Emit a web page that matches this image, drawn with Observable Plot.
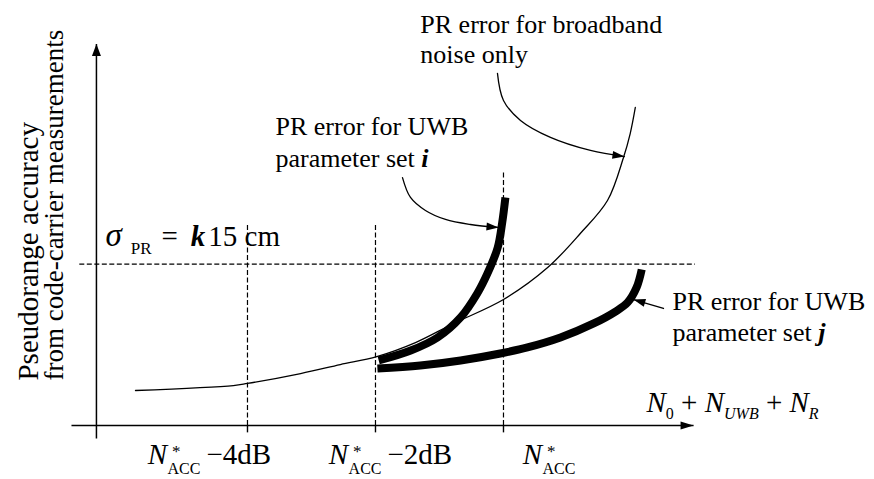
<!DOCTYPE html>
<html>
<head>
<meta charset="utf-8">
<script src="https://cdn.jsdelivr.net/npm/d3@7"></script>
<script src="https://cdn.jsdelivr.net/npm/@observablehq/plot@0.6"></script>
</head>
<body style="margin:0;background:#fff">
<div id="chart"></div>
<script>
// ---- data (x: noise level in dB relative to N*ACC; y: PR error, sigma level ≈ 1) ----
const broadbandX = [-5.75, -4.22, -4.0, -3.17, -2.55, -1.98, -1.375, -0.78, 0, 0.69, 1.20, 1.625, 1.875, 1.98, 2.06];
const broadbandY = [0.215, 0.245, 0.258, 0.319, 0.374, 0.423, 0.509, 0.626, 0.773, 0.969, 1.178, 1.380, 1.644, 1.791, 1.951];
const uwbIX = [-1.95, -1.45, -1.03, -0.67, -0.41, -0.25, -0.09, -0.02, 0.03];
const uwbIY = [0.399, 0.460, 0.540, 0.663, 0.810, 0.933, 1.092, 1.245, 1.399];
const uwbJX = [-1.97, -1.30, -0.67, -0.05, 0.375, 0.89, 1.41, 1.75, 1.94, 2.08, 2.16];
const uwbJY = [0.350, 0.368, 0.399, 0.442, 0.479, 0.540, 0.626, 0.699, 0.755, 0.847, 0.957];
const tickValues = [-4, -2, 0];
const tickLabels = ["N*ACC −4dB", "N*ACC −2dB", "N*ACC"];
const sigmaLevel = 0.99;
const sigmaLabel = "σPR = k15 cm";
const xAxisLabel = "N0 + NUWB + NR";
const yAxisLabel = ["Pseudorange accuracy", "from code-carrier measurements"];
const labelBroadband = ["PR error for broadband", "noise only"];
const labelI = ["PR error for UWB", "parameter set i"];
const labelJ = ["PR error for UWB", "parameter set j"];

// ---- annotation layout (data coordinates) ----
const arrowBroadX = [-0.094, 0, 0.266, 0.734, 1.359, 1.89];
const arrowBroadY = [2.160, 1.994, 1.871, 1.767, 1.687, 1.650];
const arrowIX = [-1.578, -1.453, -1.219, -0.906, -0.516, -0.078];
const arrowIY = [1.521, 1.399, 1.319, 1.264, 1.233, 1.215];
const arrowJX = [2.5, 2.03];
const arrowJY = [0.718, 0.773];

const zip = (xs, ys) => xs.map((x, i) => ({x, y: ys[i]}));

function filledArrow(len, wid) {
  return (color) => {
    const ns = "http://www.w3.org/2000/svg";
    const m = document.createElementNS(ns, "marker");
    m.setAttribute("viewBox", `${-len - 1} ${-wid} ${len + 2} ${wid * 2}`);
    m.setAttribute("markerUnits", "userSpaceOnUse");
    m.setAttribute("markerWidth", len + 2);
    m.setAttribute("markerHeight", wid * 2);
    m.setAttribute("refX", 0);
    m.setAttribute("refY", 0);
    m.setAttribute("orient", "auto");
    const p = document.createElementNS(ns, "path");
    p.setAttribute("d", `M0,0L${-len},${-wid / 2}L${-len},${wid / 2}Z`);
    p.setAttribute("fill", color);
    p.setAttribute("stroke", "none");
    m.appendChild(p);
    return m;
  };
}

const dash = "5,2.5";
const txt = {textAnchor: "start", lineAnchor: "bottom", fill: "black", fontFamily: "Liberation Serif"};

const plot = Plot.plot({
  width: 874,
  height: 479,
  margin: 0,
  x: {domain: [-7.859, 5.797], axis: null},
  y: {domain: [-0.331, 2.607], axis: null},
  marks: [
    // dashed guides
    Plot.ruleX([tickValues[0], tickValues[1]], {y1: 0, y2: 1.24, stroke: "black", strokeWidth: 1.2, strokeDasharray: dash}),
    Plot.ruleX([tickValues[2]], {y1: 0, y2: 1.564, stroke: "black", strokeWidth: 1.2, strokeDasharray: dash}),
    Plot.ruleY([sigmaLevel], {x1: -6.62, x2: 3.0, stroke: "black", strokeWidth: 1.2, strokeDasharray: dash}),
    // small ticks below the axis
    Plot.ruleX(tickValues, {y1: 0, y2: -0.045, stroke: "black", strokeWidth: 1.4}),
    // axes with arrows
    Plot.link([0], {x1: -6.36, y1: -0.08, x2: -6.36, y2: 2.34, stroke: "black", strokeWidth: 1.5, markerEnd: filledArrow(12, 9)}),
    Plot.link([0], {x1: -6.75, y1: 0, x2: 2.97, y2: 0, stroke: "black", strokeWidth: 1.5, markerEnd: filledArrow(13, 8)}),
    // curves
    Plot.line(zip(broadbandX, broadbandY), {x: "x", y: "y", curve: "catmull-rom", stroke: "black", strokeWidth: 1.3}),
    Plot.line(zip(uwbIX, uwbIY), {x: "x", y: "y", curve: "catmull-rom", stroke: "black", strokeWidth: 8, strokeLinecap: "butt"}),
    Plot.line(zip(uwbJX, uwbJY), {x: "x", y: "y", curve: "catmull-rom", stroke: "black", strokeWidth: 8, strokeLinecap: "butt"}),
    // annotation arrows
    Plot.line(zip(arrowBroadX, arrowBroadY), {x: "x", y: "y", curve: "catmull-rom", stroke: "black", strokeWidth: 1.3, markerEnd: filledArrow(12, 8)}),
    Plot.line(zip(arrowIX, arrowIY), {x: "x", y: "y", curve: "catmull-rom", stroke: "black", strokeWidth: 1.3, markerEnd: filledArrow(12, 8)}),
    Plot.line(zip(arrowJX, arrowJY), {x: "x", y: "y", stroke: "black", strokeWidth: 1.3, markerEnd: filledArrow(12, 8)}),
    // annotation labels
    Plot.text(labelBroadband, {...txt, x: -1.30, y: (d, i) => [2.405, 2.221][i], text: d => d, fontSize: 26}),
    Plot.text(labelI, {...txt, x: -3.5625, y: (d, i) => [1.779, 1.583][i], text: d => d, fontSize: 26}),
    Plot.text(labelJ, {...txt, x: 2.64, y: (d, i) => [0.706, 0.521][i], text: d => d, fontSize: 26}),
    // sigma label
    Plot.text([sigmaLabel], {...txt, x: -6.22, y: 1.104, text: d => d, fontSize: 29}),
    // tick labels
    Plot.text(tickLabels, {...txt, x: (d, i) => [-5.56, -2.73, 0.30][i], y: -0.233, text: d => d, fontSize: 29}),
    // axis titles
    Plot.text([xAxisLabel], {...txt, x: 2.234, y: 0.086, text: d => d, fontSize: 29}),
    Plot.text([yAxisLabel[0]], {...txt, x: -7.28, y: 0.276, text: d => d, rotate: -90, fontSize: 29}),
    Plot.text([yAxisLabel[1]], {...txt, x: -6.875, y: 0.276, text: d => d, rotate: -90, fontSize: 27})
  ]
});

// ---- rich text formatting (italics, sub/superscripts) ----
function segmentsFor(s) {
  if (s === sigmaLabel) {
    return [
      {t: "σ", italic: true, size: 33},
      {t: "PR", size: 17, dx: 9, dy: 8},
      {t: "=", dx: 10, dy: -8},
      {t: "k", italic: true, bold: true, dx: 13},
      {t: "15 cm", dx: 3}
    ];
  }
  if (s.startsWith("N*ACC")) {
    const segs = [
      {t: "N", italic: true},
      {t: "*", size: 17, dx: 5, dy: -7},
      {t: "ACC", size: 16, dx: -13, dy: 17}
    ];
    const rest = s.slice(5).trim();
    if (rest) segs.push({t: rest, dx: 6, dy: -10});
    return segs;
  }
  if (s === xAxisLabel) {
    return [
      {t: "N", italic: true},
      {t: "0", size: 16, dy: 7},
      {t: " + ", dy: -7},
      {t: "N", italic: true},
      {t: "UWB", italic: true, size: 16, dy: 7},
      {t: " + ", dy: -7},
      {t: "N", italic: true},
      {t: "R", italic: true, size: 16, dy: 7}
    ];
  }
  if (s === labelI[1] || s === labelJ[1]) {
    return [{t: s.slice(0, -1)}, {t: s.slice(-1), italic: true, bold: true}];
  }
  return null;
}

const ns = "http://www.w3.org/2000/svg";
plot.querySelectorAll("text").forEach(t => {
  const segs = segmentsFor(t.textContent);
  if (!segs) return;
  t.textContent = "";
  for (const seg of segs) {
    const ts = document.createElementNS(ns, "tspan");
    if (seg.italic) ts.setAttribute("font-style", "italic");
    if (seg.bold) ts.setAttribute("font-weight", "bold");
    if (seg.size) ts.setAttribute("font-size", seg.size);
    if (seg.dx) ts.setAttribute("dx", seg.dx);
    if (seg.dy) ts.setAttribute("dy", seg.dy);
    ts.textContent = seg.t;
    t.appendChild(ts);
  }
});

document.getElementById("chart").appendChild(plot);
</script>
</body>
</html>
